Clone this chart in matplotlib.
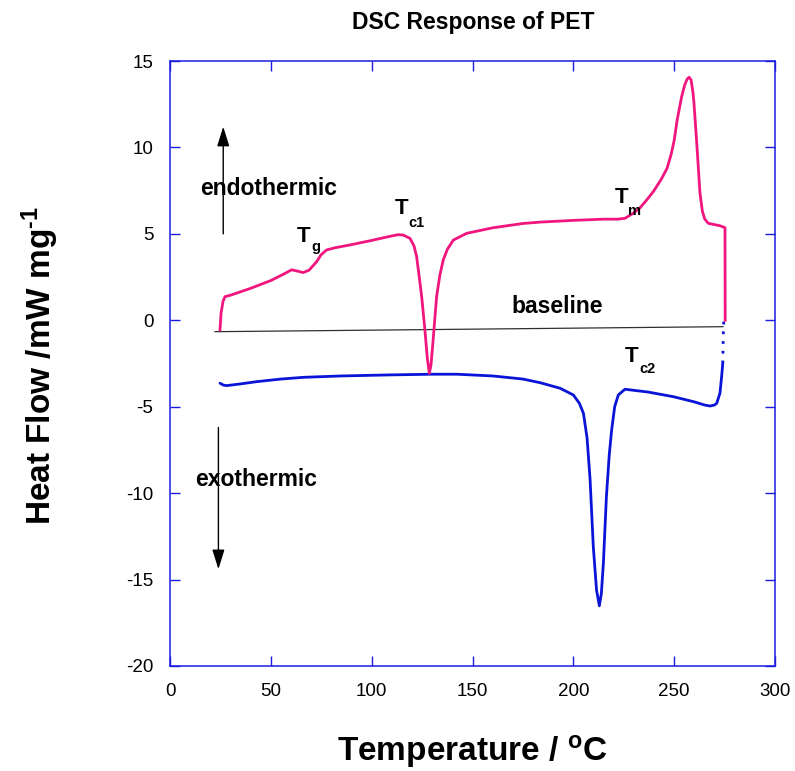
import matplotlib
matplotlib.use('Agg')
import matplotlib.pyplot as plt

plt.rcParams['font.family'] = ['Liberation Sans', 'DejaVu Sans']
plt.rcParams['mathtext.fontset'] = 'custom'
plt.rcParams['mathtext.rm'] = 'Liberation Sans:bold'
plt.rcParams['mathtext.bf'] = 'Liberation Sans:bold'
plt.rcParams['mathtext.it'] = 'Liberation Sans:bold'
plt.rcParams['axes.unicode_minus'] = False

# heating run (first scan), temperature in C, heat flow in mW/mg
heat_T = [24.8, 25.3, 26.3, 27.3, 30, 40, 50, 56, 60.3, 63, 66, 69, 72.7, 75, 77.7,
          82, 89.3, 100, 108, 113, 115.7, 119, 121, 122.3, 123.5, 124.8, 126.4,
          127.6, 128.6, 129.4, 130.2, 132.2, 133.8, 135.5, 137.5, 140.5, 147.1,
          160, 175, 183.5, 200, 215, 222, 225.6, 229.7, 233, 236.4, 240, 243.8,
          246.5, 248.5, 250, 251.5, 253.7, 255.2, 256.4, 257.4, 258.4, 259.3,
          259.8, 261.2, 262.8, 264, 265.2, 266.9, 272.7, 275.2, 275.3]
heat_Q = [-0.55, 0.4, 1.1, 1.37, 1.45, 1.85, 2.3, 2.65, 2.92, 2.85, 2.76, 2.9, 3.39,
          3.8, 4.07, 4.2, 4.36, 4.62, 4.83, 4.95, 4.93, 4.74, 4.3, 3.68, 2.6, 1.37,
          -0.56, -2.2, -3.07, -2.6, -1.53, 1.37, 2.6, 3.49, 4.1, 4.64, 5.03, 5.35,
          5.6, 5.68, 5.78, 5.85, 5.85, 5.9, 6.19, 6.5, 6.96, 7.5, 8.2,
          8.8, 9.6, 10.4, 11.6, 12.93, 13.6, 13.95, 14.06, 13.9, 13.2,
          12.6, 10.24, 7.35, 6.3, 5.85, 5.61, 5.47, 5.36, 0.0]

# cooling run
cool_T = [24.8, 26.5, 28.1, 35, 43, 55, 66.1, 85, 109, 130, 142.2, 160, 175, 183.5,
          193.4, 200, 203, 205, 206.8, 208.3, 209.9, 211.5, 212.9, 213.9, 214.9,
          216.4, 217.8, 219, 220.5, 222.3, 225.6, 237, 249.6, 260, 265, 267.8,
          270, 271.1, 272.7, 273.5, 274.1, 274.4, 274.6]
cool_Q = [-3.64, -3.75, -3.78, -3.68, -3.55, -3.4, -3.3, -3.22, -3.16, -3.12, -3.12,
          -3.22, -3.4, -3.61, -3.93, -4.32, -4.8, -5.38, -6.8, -9.2, -13.1, -15.6,
          -16.52, -15.8, -14.05, -10.2, -7.8, -6.34, -5.0, -4.32, -3.99, -4.15,
          -4.42, -4.72, -4.9, -4.96, -4.9, -4.8, -4.22, -3.3, -2.49, -0.56, 0.0]

base_T = [22.3, 274.2]
base_Q = [-0.66, -0.37]

pink = '#f0157f'
blue = '#0a14d6'
frame = '#1c1ce0'

fig = plt.figure(figsize=(7.95, 7.71), dpi=100)
ax = fig.add_axes([170 / 795, 105 / 771, 605 / 795, 605 / 771])

ax.plot(base_T, base_Q, color='#303030', lw=0.9)
ax.plot(cool_T[:-2], cool_Q[:-2], color=blue, lw=2.0, solid_capstyle='round')
ax.plot(cool_T[-3:], cool_Q[-3:], color=blue, lw=2.0, ls=(0, (1, 2.5)))
ax.plot(heat_T, heat_Q, color=pink, lw=2.0, solid_joinstyle='round')

ax.set_xlim(0, 300)
ax.set_ylim(-20, 15)
ax.set_xticks(range(0, 301, 50))
ax.set_yticks(range(-20, 16, 5))
ax.tick_params(direction='in', length=7.5, width=1.0, color=frame,
               top=True, right=True, labelsize=13.5, pad=12)
for s in ax.spines.values():
    s.set_color(frame)
    s.set_linewidth(1.1)

# direction arrows
arr = dict(arrowstyle='-|>,head_length=0.8,head_width=0.25', color='black',
           lw=1.0, mutation_scale=15, shrinkA=0, shrinkB=0)
ax.annotate('', xy=(26.4, 11.2), xytext=(26.4, 5.0), arrowprops=arr)
ax.annotate('', xy=(24.0, -14.4), xytext=(24.0, -6.2), arrowprops=arr)

lab = dict(fontsize=16.5, fontweight='bold', va='center', ha='left')
ax.text(14.9, 7.65, 'endothermic', **lab)
ax.text(12.4, -9.23, 'exothermic', **lab)
ax.text(191.9, 0.77, 'baseline', fontsize=16.5, fontweight='bold',
        va='center', ha='center')

# transition temperatures: T with a dropped subscript
marks = [(63.0, 4.53, 69.9, 4.01, 'g'),
         (111.6, 6.14, 118.0, 5.40, 'c1'),
         (220.7, 6.78, 227.1, 6.09, 'm'),
         (225.6, -2.41, 232.6, -3.05, 'c2')]
for tx, ty, sx, sy, sub in marks:
    ax.text(tx, ty, 'T', fontsize=16, fontweight='bold', va='baseline', ha='left')
    ax.text(sx, sy, sub, fontsize=10.5, fontweight='bold', va='baseline', ha='left')

fig.text(473 / 795, 1 - 22 / 771, 'DSC Response of PET', fontsize=16.5,
         fontweight='bold', ha='center', va='center')
fig.text(472 / 795, 1 - 752 / 771, r'Temperature / $^{\mathbf{o}}$C', fontsize=24,
         fontweight='bold', ha='center', va='center')
fig.text(40 / 795, 1 - 365 / 771, 'Heat Flow /mW mg$^{\u2010\\mathbf{1}}$', fontsize=24,
         fontweight='bold', ha='center', va='center', rotation=90)

fig.savefig('out.png', dpi=100)
